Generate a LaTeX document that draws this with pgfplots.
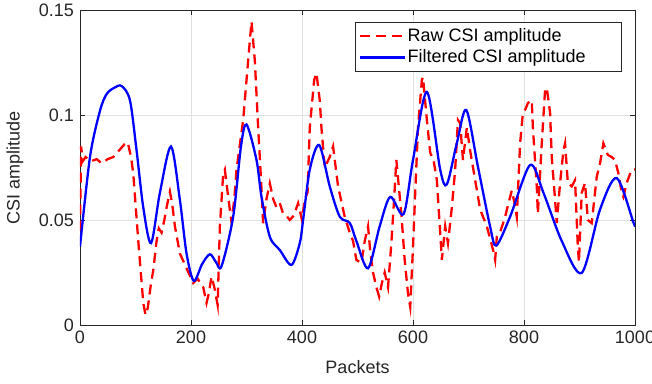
\documentclass[border=0pt]{standalone}
\usepackage{fontspec}
\setmainfont{Liberation Sans}
\usepackage{pgfplots}
\pgfplotsset{compat=1.18}
\definecolor{axgray}{gray}{0.15}
\definecolor{gridgray}{gray}{0.88}
\begin{document}
\fontsize{18bp}{21bp}\selectfont
\begin{tikzpicture}
\begin{axis}[
  at={(0,0)}, anchor=origin,
  scale only axis, width=555bp, height=315bp,
  xmin=0, xmax=1000, ymin=0, ymax=0.15,
  xtick={0,200,...,1000},
  ytick={0,0.05,0.1,0.15},
  yticklabels={0,0.05,0.1,0.15},
  scaled y ticks=false,
  /pgf/number format/1000 sep={},
  /pgf/number format/assume math mode=true,
  tick align=inside, major tick length=5bp,
  grid=major, grid style={draw=gridgray, line width=0.5bp},
  axis line style={draw=axgray, line width=0.7bp},
  tick style={draw=axgray, line width=0.6bp},
  ticklabel style={font=\fontsize{18bp}{21bp}\selectfont, text=axgray},
  label style={font=\fontsize{18bp}{21bp}\selectfont, text=axgray},
  xlabel={Packets}, ylabel={CSI amplitude},
  xlabel style={at={(axis description cs:0.5,-0.133)}, anchor=center},
  ylabel style={at={(axis description cs:-0.117,0.5)}, anchor=center},
  legend style={at={(axis description cs:0.9766,0.9619)}, anchor=north east,
    draw=axgray, line width=0.6bp, fill=white, inner xsep=3bp, inner ysep=4bp,
    row sep=1.5bp,
    font=\fontsize{18bp}{21bp}\selectfont, text=black},
  legend cell align=left,
  legend image code/.code={\draw[#1] (0bp,0bp) -- (45bp,0bp);},
]
\addplot[red, line width=2.3bp, dash pattern=on 10bp off 6bp] coordinates {
(0,0.045)(2,0.085)(5,0.078)(10,0.080)(20,0.078)(30,0.079)(39,0.077)(50,0.079)(60,0.080)(70,0.083)(80,0.086)(86,0.087)(92,0.080)(96,0.072)(105,0.040)(114,0.0105)(118,0.0048)(122,0.008)(128,0.020)(132,0.026)(138,0.040)(142,0.046)(147,0.044)(152,0.050)(156,0.056)(162,0.0635)(166,0.058)(171,0.047)(180,0.034)(192,0.027)(204,0.020)(212,0.022)(222,0.018)(228,0.0105)(232,0.015)(237,0.023)(242,0.018)(248,0.0095)(252,0.047)(258,0.072)(261,0.074)(267,0.061)(273,0.049)(278,0.060)(282,0.074)(294,0.0976)(303,0.126)(309,0.1445)(315,0.126)(321,0.094)(326,0.070)(330,0.0485)(336,0.060)(342,0.0675)(348,0.060)(354,0.056)(360,0.058)(366,0.053)(372,0.052)(378,0.050)(385,0.052)(393,0.058)(400,0.050)(405,0.060)(410,0.063)(414,0.094)(422,0.1167)(426,0.120)(432,0.107)(435,0.094)(441,0.075)(450,0.080)(456,0.085)(465,0.066)(477,0.0515)(486,0.044)(492,0.040)(498,0.031)(507,0.0295)(513,0.040)(519,0.047)(523,0.035)(528,0.025)(534,0.018)(539,0.0135)(544,0.020)(549,0.025)(555,0.018)(561,0.039)(566,0.060)(570,0.0786)(573,0.070)(579,0.053)(585,0.031)(591,0.015)(595,0.0086)(600,0.037)(604,0.063)(609,0.094)(616,0.1167)(618,0.118)(625,0.0976)(631,0.082)(637,0.0786)(643,0.069)(649,0.044)(652,0.031)(658,0.047)(663,0.039)(670,0.056)(676,0.074)(681,0.0976)(685,0.096)(690,0.0786)(697,0.094)(703,0.083)(712,0.069)(721,0.055)(733,0.047)(740,0.040)(745,0.035)(748,0.031)(751,0.042)(758,0.045)(766,0.0515)(772,0.058)(778,0.064)(783,0.058)(787,0.0515)(793,0.0865)(798,0.101)(803,0.103)(807,0.1057)(814,0.107)(816,0.094)(823,0.066)(825,0.053)(832,0.0865)(838,0.112)(841,0.113)(847,0.101)(850,0.080)(856,0.0595)(859,0.0485)(865,0.0676)(871,0.083)(874,0.0865)(879,0.0676)(886,0.066)(892,0.069)(897,0.037)(899,0.030)(904,0.063)(910,0.0676)(915,0.050)(922,0.0485)(931,0.0705)(937,0.077)(943,0.0865)(951,0.081)(958,0.080)(964,0.0786)(970,0.0723)(976,0.063)(979,0.061)(985,0.0676)(994,0.074)(1000,0.074)
};
\addlegendentry{\makebox[209bp][l]{Raw CSI amplitude}}
\addplot[blue, line width=2.3bp, smooth, tension=0.5] coordinates {
(0,0.0373)(18,0.080)(36,0.102)(48,0.110)(62,0.1130)(75,0.1138)(90,0.107)(102,0.083)(114,0.056)(128,0.039)(144,0.063)(164,0.085)(180,0.0595)(192,0.034)(205,0.021)(220,0.029)(234,0.0337)(245,0.030)(255,0.028)(276,0.0516)(290,0.085)(300,0.0955)(318,0.0786)(327,0.061)(342,0.042)(360,0.0357)(381,0.0286)(396,0.039)(402,0.050)(414,0.074)(431,0.0857)(450,0.066)(468,0.0516)(486,0.0486)(498,0.040)(519,0.027)(540,0.047)(559,0.061)(583,0.0528)(600,0.0786)(625,0.111)(649,0.074)(661,0.067)(679,0.0866)(696,0.1024)(717,0.0754)(739,0.0468)(750,0.0378)(775,0.0516)(811,0.0762)(835,0.063)(868,0.040)(904,0.0248)(937,0.055)(967,0.070)(997,0.049)(1000,0.047)
};
\addlegendentry{\makebox[209bp][l]{Filtered CSI amplitude}}
\end{axis}
\pgfresetboundingbox
\path[use as bounding box] (-80bp,-59bp) rectangle (572bp,325bp);
\end{tikzpicture}
\end{document}
